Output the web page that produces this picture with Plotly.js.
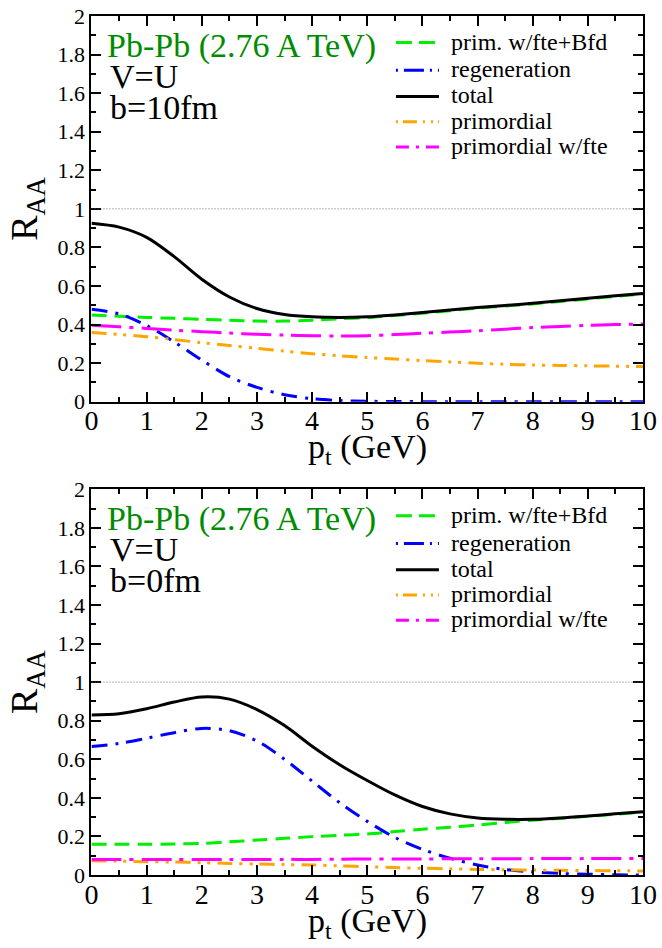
<!DOCTYPE html>
<html><head><meta charset="utf-8">
<script src="https://cdn.plot.ly/plotly-3.0.1.min.js"></script>
<style>
html,body{margin:0;padding:0;background:#fff}
</style>
</head><body><div id="chart" style="width:662px;height:948px"></div>
<script>
// transverse momentum grid (GeV)
const pt = [0,0.5,1,1.5,2,2.5,3,3.5,4,4.5,5,5.5,6,6.5,7,7.5,8,8.5,9,9.5,10];

// Panel 1: b = 10 fm
const b10_primFteBfd = [0.449,0.443,0.437,0.432,0.427,0.422,0.418,0.418,0.422,0.430,0.436,0.447,0.459,0.472,0.485,0.496,0.507,0.520,0.533,0.546,0.558];
const b10_regen      = [0.479,0.455,0.395,0.310,0.216,0.130,0.074,0.036,0.015,0.006,0.002,0.001,0,0,0,0,0,0,0,0,0];
const b10_total      = [0.925,0.905,0.852,0.752,0.635,0.543,0.483,0.452,0.440,0.437,0.440,0.450,0.462,0.475,0.488,0.499,0.510,0.523,0.536,0.549,0.561];
const b10_prim       = [0.359,0.349,0.337,0.322,0.306,0.291,0.277,0.262,0.248,0.238,0.229,0.221,0.213,0.206,0.199,0.194,0.190,0.188,0.186,0.184,0.182];
const b10_primFte    = [0.396,0.388,0.380,0.371,0.363,0.356,0.349,0.345,0.342,0.341,0.342,0.348,0.355,0.361,0.368,0.376,0.384,0.390,0.396,0.400,0.403];

// Panel 2: b = 0 fm
const b0_primFteBfd = [0.159,0.159,0.159,0.161,0.164,0.172,0.181,0.190,0.199,0.206,0.213,0.225,0.237,0.248,0.259,0.272,0.284,0.294,0.304,0.315,0.326];
const b0_regen      = [0.666,0.682,0.709,0.738,0.760,0.748,0.695,0.600,0.487,0.375,0.278,0.195,0.133,0.087,0.052,0.029,0.016,0.008,0.004,0.001,0];
const b0_total      = [0.830,0.836,0.862,0.897,0.923,0.912,0.858,0.775,0.668,0.572,0.490,0.415,0.355,0.317,0.296,0.289,0.289,0.296,0.306,0.317,0.328];
const b0_prim       = [0.074,0.072,0.069,0.067,0.064,0.060,0.057,0.054,0.052,0.047,0.043,0.039,0.035,0.032,0.029,0.027,0.026,0.024,0.023,0.022,0.021];
const b0_primFte    = [0.081,0.081,0.080,0.080,0.080,0.080,0.080,0.081,0.081,0.082,0.083,0.083,0.083,0.084,0.084,0.084,0.085,0.085,0.085,0.086,0.086];

const seriesNames = ['prim. w/fte+Bfd','regeneration','total','primordial','primordial w/fte'];
const panelLabels = [['Pb-Pb (2.76 A TeV)','V=U','b=10fm'],['Pb-Pb (2.76 A TeV)','V=U','b=0fm']];
const xTitle = 'p<sub>t</sub> (GeV)';
const yTitle = 'R<sub>AA</sub>';

const styles = [
  {color:'#00ee00', dash:'15px,8px',                    legDash:'16px,7px'},
  {color:'#0000ff', dash:'16px,8px,3px,8px',            legDash:'2px,6px,20px,6px'},
  {color:'#000000', dash:'solid',                        legDash:'solid'},
  {color:'#ffa500', dash:'15px,7px,3px,7px,3px,7px',    legDash:'2px,5px,14px,6px,2px,6px'},
  {color:'#ff00ff', dash:'30px,8px,4px,8px',            legDash:'13px,7px,3px,7px'}
];
const drawOrder = [0,1,3,4,2];
const panels = [
  {data:[b10_primFteBfd,b10_regen,b10_total,b10_prim,b10_primFte], xa:'x', ya:'y', titleY:0.5262},
  {data:[b0_primFteBfd,b0_regen,b0_total,b0_prim,b0_primFte], xa:'x2', ya:'y2', titleY:0.0262}
];

const SERIF = "'Liberation Serif', serif";
const traces = [];
panels.forEach(p => {
  drawOrder.forEach(i => {
    traces.push({
      x: pt, y: p.data[i], name: seriesNames[i], type:'scatter', mode:'lines',
      xaxis: p.xa, yaxis: p.ya, showlegend:false,
      line:{color:styles[i].color, width:3, dash:styles[i].dash, shape:'spline', smoothing:0.9}
    });
  });
});

function xAxis(anchor){
  return {
    domain:[0.1382,0.9713], anchor:anchor, range:[0,10], dtick:1, tick0:0,
    ticks:'inside', ticklen:10, tickwidth:1.5, tickcolor:'#000',
    minor:{dtick:0.5, ticks:'inside', ticklen:5, tickwidth:1.5, tickcolor:'#000'},
    mirror:'allticks', showline:true, linewidth:2, linecolor:'#000',
    showgrid:false, zeroline:false, ticklabelstandoff:-7,
    tickfont:{family:SERIF, size:28, color:'#000'}
  };
}
function yAxis(anchor, dom){
  return {
    domain:dom, anchor:anchor, range:[0,2], dtick:0.2, tick0:0,
    ticks:'inside', ticklen:10, tickwidth:1.5, tickcolor:'#000',
    minor:{dtick:0.1, ticks:'inside', ticklen:5, tickwidth:1.5, tickcolor:'#000'},
    mirror:'allticks', showline:true, linewidth:2, linecolor:'#000',
    showgrid:false, zeroline:false,
    tickfont:{family:SERIF, size:22, color:'#000'},
    title:{text:yTitle, font:{family:SERIF, size:38, color:'#000'}, standoff:8}
  };
}

const shapes = [];
const annotations = [];
const legRows = [26.5, 54.3, 80.4, 105.7, 131];
const panelH = 385.7;
const textRows = [0.922, 0.843, 0.763];
panels.forEach((p, k) => {
  const xd = p.xa + ' domain', yd = p.ya + ' domain';
  shapes.push({type:'line', xref:p.xa, yref:p.ya, x0:0, x1:10, y0:1, y1:1,
    line:{color:'#666', width:1, dash:'1px,2px'}});
  seriesNames.forEach((nm, i) => {
    const yy = 1 - legRows[i]/panelH;
    shapes.push({type:'line', xref:xd, yref:yd, x0:0.552, x1:0.630, y0:yy, y1:yy,
      line:{color:styles[i].color, width:3, dash:styles[i].legDash}});
    annotations.push({xref:xd, yref:yd, x:0.649, y:yy, xanchor:'left', yanchor:'middle',
      text:nm, showarrow:false, yshift:1, font:{family:SERIF, size:24, color:'#000'}});
  });
  panelLabels[k].forEach((t, j) => {
    annotations.push({xref:xd, yref:yd, x:(j===0?0.0254:0.0308), y:textRows[j],
      xanchor:'left', yanchor:'middle', text:t, showarrow:false,
      font:{family:SERIF, size:34, color:(j===0?'#008c00':'#000')}});
  });
  // x-axis title
  annotations.push({xref:'paper', yref:'paper', x:0.5544, y:p.titleY, xanchor:'center', yanchor:'middle',
    text:xTitle, showarrow:false, font:{family:SERIF, size:34, color:'#000'}});
});

const layout = {
  width:662, height:948, margin:{l:0,r:0,t:0,b:0},
  font:{family:SERIF, color:'#000'},
  paper_bgcolor:'#fff', plot_bgcolor:'#fff', showlegend:false,
  xaxis:xAxis('y'), yaxis:yAxis('x',[0.5763,0.9831]),
  xaxis2:xAxis('y2'), yaxis2:yAxis('x2',[0.0770,0.4839]),
  shapes:shapes, annotations:annotations
};
Plotly.newPlot('chart', traces, layout, {displayModeBar:false});
</script></body></html>
